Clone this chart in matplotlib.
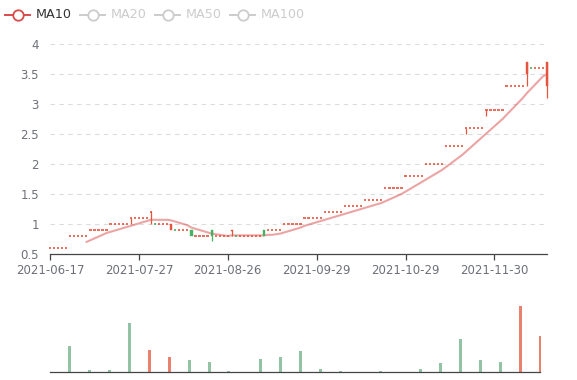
import matplotlib
matplotlib.use("Agg")
import matplotlib.pyplot as plt
from matplotlib.patches import Rectangle
from matplotlib.lines import Line2D
import numpy as np

# ---------------- data ----------------
tick_labels = ["2021-06-17", "2021-07-27", "2021-08-26", "2021-09-29", "2021-10-29", "2021-11-30"]
tick_step = 22

close = ([0.6]*5 + [0.8]*5 + [0.9]*5 + [1.0]*5 +
         [1.1] + [1.1]*4 +
         [1.2] + [1.0]*4 +
         [1.0] + [0.9]*4 +
         [0.8] + [0.8]*4 +
         [0.8] + [0.8]*4 +
         [0.9] + [0.8]*7 +
         [0.8] + [0.9]*4 +
         [1.0]*5 + [1.1]*5 + [1.2]*5 + [1.3]*5 + [1.4]*5 + [1.6]*5 + [1.8]*5 +
         [2.0]*5 + [2.3]*5 +
         [2.6] + [2.6]*4 +
         [2.9] + [2.9]*4 +
         [3.3]*5 +
         [3.7] + [3.6]*4 +
         [3.7])
open_ = list(close)
low = list(close)
high = list(close)
# days with a real body / wick: index -> (open, high, low)
special = {20: (1.1, 1.1, 1.0), 25: (1.2, 1.21, 1.0), 30: (0.9, 1.0, 0.9),
           35: (0.9, 0.9, 0.8), 40: (0.9, 0.9, 0.71), 45: (0.88, 0.9, 0.8),
           53: (0.9, 0.9, 0.8), 103: (2.6, 2.6, 2.5), 108: (2.9, 2.9, 2.8),
           118: (3.5, 3.7, 3.3), 123: (3.3, 3.7, 3.1)}
for k, (o, h, l) in special.items():
    open_[k] = o
    high[k] = h
    low[k] = l

vol_days = [5, 10, 15, 20, 25, 30, 35, 40, 45, 53, 58, 63, 68, 73, 78, 83, 88, 93, 98, 103, 108, 113, 118, 123]
vol_vals = [26, 2, 2, 49, 22, 15.3, 12, 10, 1.3, 13.3, 14.7, 21, 3, 1, 0.3, 1, 0.3, 2.7, 9.3, 33.3, 12, 10, 66, 36.3]
vol_up = [0, 0, 0, 0, 1, 1, 0, 0, 0, 0, 0, 0, 0, 0, 0, 0, 0, 0, 0, 0, 0, 0, 1, 1]

# ---------------- style ----------------
UP = "#e5543f"
DOWN = "#47b262"
MA_COLOR = "#d94a4a"
TXT = "#6e7079"

N = len(close)
W, H = 577, 380
fig = plt.figure(figsize=(W/100, H/100), dpi=100)

ax = fig.add_axes([50/W, 1-254/H, 497/W, 210/H])
ax.set_xlim(0, N-1)
ax.set_ylim(0.5, 4.0)
yt = np.arange(0.5, 4.01, 0.5)
ax.set_yticks(yt)
ax.set_yticklabels([("%g" % v) for v in yt])
for v in yt[1:]:
    ax.axhline(v, color="#dcdcdc", lw=0.8, ls=(0, (4, 4)), zorder=0)
for s in ["top", "right", "left"]:
    ax.spines[s].set_visible(False)
ax.spines["bottom"].set_color("#444")
ax.spines["bottom"].set_linewidth(0.9)
ax.tick_params(axis="y", length=0, pad=8, labelsize=8.5, labelcolor=TXT)
xt = list(range(0, N, tick_step))[:len(tick_labels)]
ax.set_xticks(xt)
ax.set_xticklabels(tick_labels)
ax.tick_params(axis="x", length=4, width=0.9, color="#444", pad=3, labelsize=8.5, labelcolor=TXT)

# candles (echarts sign rule)
bw = 0.55
for i in range(N):
    o, c, h, l = open_[i], close[i], high[i], low[i]
    if c > o:
        sign = 1
    elif c < o:
        sign = -1
    else:
        sign = 1 if (i == 0 or close[i-1] <= c) else -1
    col = UP if sign > 0 else DOWN
    if h > max(o, c) or l < min(o, c):
        ax.vlines(i, l, h, color=col, lw=0.9, zorder=3, clip_on=False)
    if abs(c - o) > 1e-9:
        ax.add_patch(Rectangle((i - bw/2, min(o, c)), bw, abs(c - o), facecolor=col,
                               edgecolor=col, lw=0.3, zorder=3, clip_on=False))
    else:
        ax.hlines(c, i - bw/2, i + bw/2, color=col, lw=1.2, zorder=3, clip_on=False)

# MA10
ma = [np.nan]*N
for i in range(9, N):
    ma[i] = sum(close[i-9:i+1]) / 10
ax.plot(range(N), ma, color=MA_COLOR, alpha=0.5, lw=1.5, zorder=2, solid_capstyle="round")

# volume
axv = fig.add_axes([49.5/W, 1-372/H, 490.5/W, 72/H])
axv.set_xlim(0, N-1)
axv.set_ylim(0, 72)
axv.bar(vol_days, vol_vals, width=0.75,
        color=["#e8826f" if u else "#93c3a5" for u in vol_up], zorder=2, clip_on=False)
for s in ["top", "right", "left"]:
    axv.spines[s].set_visible(False)
axv.spines["bottom"].set_color("#444")
axv.spines["bottom"].set_linewidth(0.9)
axv.spines["bottom"].set_zorder(3)
axv.set_xticks([])
axv.set_yticks([])

# legend
names = ["MA10", "MA20", "MA50", "MA100"]
icon_x = [5, 80, 155, 230]
for k, (nm, x0) in enumerate(zip(names, icon_x)):
    col = MA_COLOR if k == 0 else "#cccccc"
    tcol = "#333333" if k == 0 else "#cccccc"
    y = 1 - 15/H
    fig.add_artist(Line2D([x0/W, (x0+25)/W], [y, y], color=col, lw=1.4, transform=fig.transFigure))
    fig.add_artist(Line2D([(x0+12.5)/W], [y], marker="o", ms=7.5, mfc="white", mec=col, mew=1.3,
                          transform=fig.transFigure))
    fig.text((x0+31)/W, y, nm, color=tcol, fontsize=9.2, va="center", ha="left")

fig.savefig("out.png", dpi=100)
